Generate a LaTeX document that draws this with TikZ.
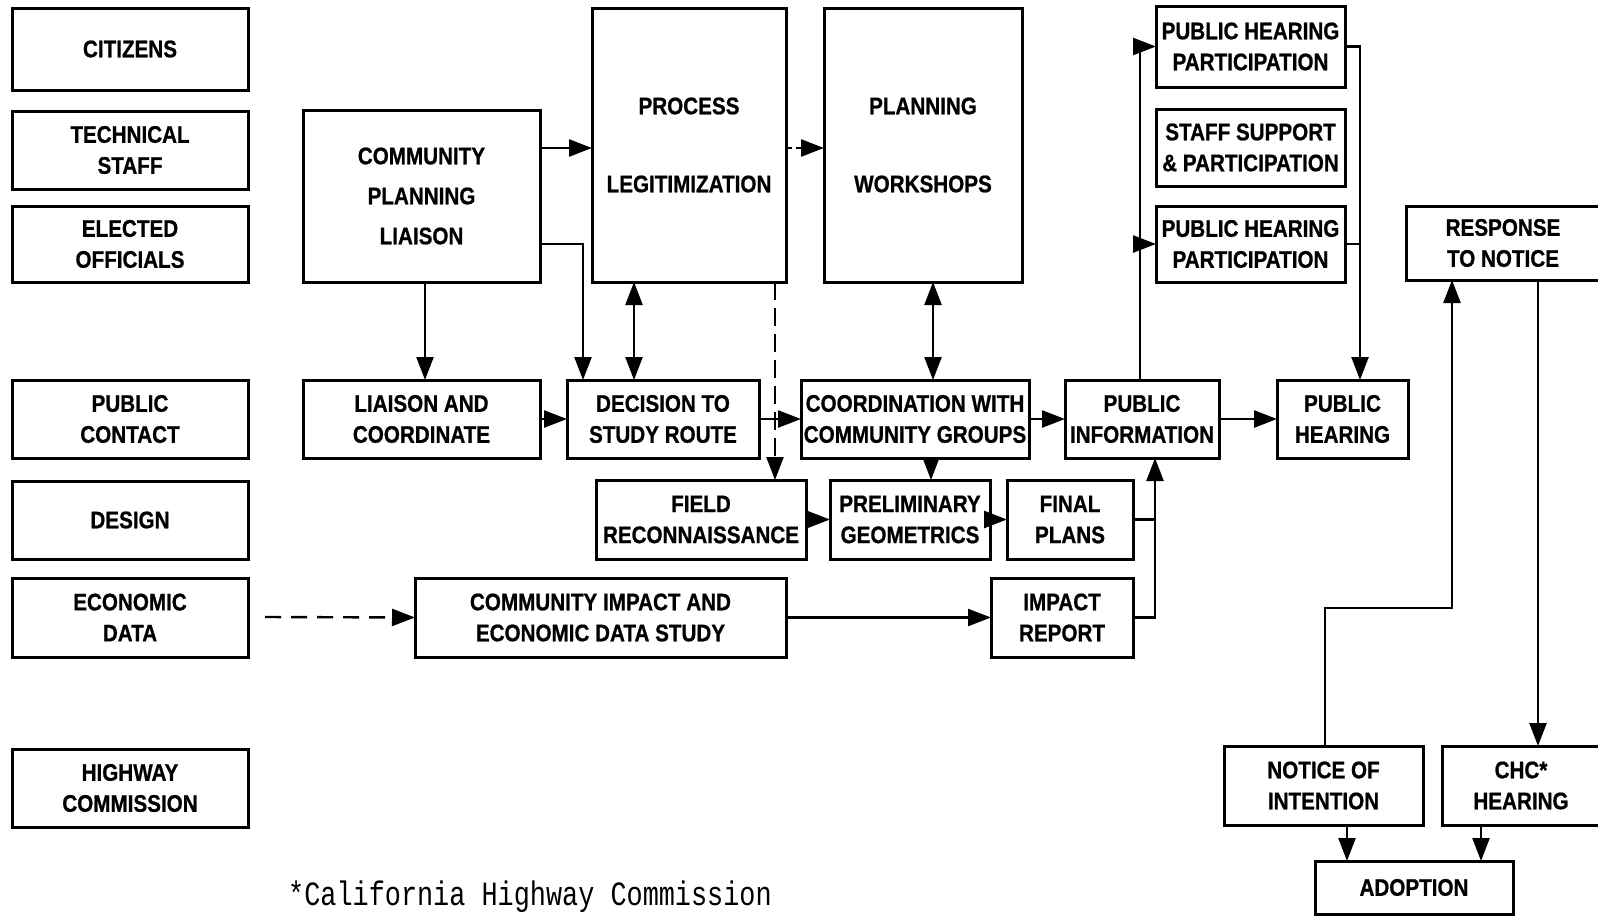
\documentclass[tikz,border=0pt]{standalone}
\usepackage{fontspec}
\usetikzlibrary{arrows.meta}
\newfontfamily\labfont[FakeStretch=0.86, FakeBold=0.8]{Liberation Sans}
\newfontfamily\notefont[FakeStretch=0.79]{Liberation Mono}

% box from (x1,y1) to (x2,y2), y grows downward
\newcommand\blockbox[6]{%
  \node[blk, minimum width={(#4-#2)*1pt}, minimum height={(#5-#3)*1pt}]
    (#1) at ({(#2+#4)/2},{(#3+#5)/2}) {#6};}

\begin{document}
\begin{tikzpicture}[x=1pt,y=-1pt,
  blk/.style={draw, line width=3pt, inner sep=0pt, outer sep=0pt, align=center,
    font=\labfont\bfseries\fontsize{24}{31}\selectfont},
  tip/.style={-{Triangle[length=23pt,width=17pt]}},
  link/.style={line width=2.4pt, tip},
  plain/.style={line width=2.4pt},
  dlink/.style={line width=2.4pt, {Triangle[length=23pt,width=17pt]}-{Triangle[length=23pt,width=17pt]}}]

\useasboundingbox (0,0) rectangle (1598,916);

% left column: participants
\blockbox{citizens}{12}{8}{248}{90}{CITIZENS}
\blockbox{techstaff}{12}{111}{248}{189}{TECHNICAL\\STAFF}
\blockbox{elected}{12}{206}{248}{282}{ELECTED\\OFFICIALS}
\blockbox{pubcontact}{12}{380}{248}{458}{PUBLIC\\CONTACT}
\blockbox{design}{12}{481}{248}{559}{DESIGN}
\blockbox{econdata}{12}{578}{248}{657}{ECONOMIC\\DATA}
\blockbox{highway}{12}{749}{248}{827}{HIGHWAY\\COMMISSION}

% top row
\blockbox{cpl}{303}{110}{540}{282}{COMMUNITY\\[9pt]PLANNING\\[9pt]LIAISON}
\blockbox{pl}{592}{8}{786}{282}{PROCESS\\[47pt]LEGITIMIZATION}
\blockbox{pw}{824}{8}{1022}{282}{PLANNING\\[47pt]WORKSHOPS}
\blockbox{php1}{1156}{6}{1345}{87}{PUBLIC HEARING\\PARTICIPATION}
\blockbox{ssp}{1156}{109}{1345}{186}{STAFF SUPPORT\\\& PARTICIPATION}
\blockbox{php2}{1156}{206}{1345}{282}{PUBLIC HEARING\\PARTICIPATION}
\blockbox{resp}{1406}{206}{1600}{280}{RESPONSE\\TO NOTICE}

% middle row
\blockbox{liaison}{303}{380}{540}{458}{LIAISON AND\\COORDINATE}
\blockbox{decision}{567}{380}{759}{458}{DECISION TO\\STUDY ROUTE}
\blockbox{coord}{801}{380}{1029}{458}{COORDINATION WITH\\COMMUNITY GROUPS}
\blockbox{pubinfo}{1065}{380}{1219}{458}{PUBLIC\\INFORMATION}
\blockbox{pubhear}{1277}{380}{1408}{458}{PUBLIC\\HEARING}

\blockbox{field}{596}{480}{806}{559}{FIELD\\RECONNAISSANCE}
\blockbox{prelim}{830}{480}{990}{559}{PRELIMINARY\\GEOMETRICS}
\blockbox{final}{1007}{480}{1133}{559}{FINAL\\PLANS}

\blockbox{cieds}{415}{578}{786}{657}{COMMUNITY IMPACT AND\\ECONOMIC DATA STUDY}
\blockbox{impact}{991}{578}{1133}{657}{IMPACT\\REPORT}

% commission steps
\blockbox{notice}{1224}{746}{1423}{825}{NOTICE OF\\INTENTION}
\blockbox{chc}{1442}{746}{1600}{825}{CHC*\\HEARING}
\blockbox{adoption}{1315}{861}{1513}{914}{ADOPTION}

\node[anchor=base west, inner sep=0pt, font=\notefont\fontsize{34}{38}\selectfont]
  (note) at (288,905) {*California Highway Commission};

% routing levels
\coordinate (h148) at (0,148);
\coordinate (h244) at (0,244);
\coordinate (h608) at (0,608);
\coordinate (v425) at (425,0);
\coordinate (v583) at (583,0);
\coordinate (v634) at (634,0);
\coordinate (v775) at (775,0);
\coordinate (v931) at (931,0);
\coordinate (v933) at (933,0);
\coordinate (v1140) at (1140,0);
\coordinate (v1155) at (1155,0);
\coordinate (v1325) at (1325,0);
\coordinate (v1347) at (1347,0);
\coordinate (v1360) at (1360,0);
\coordinate (v1452) at (1452,0);
\coordinate (v1481) at (1481,0);
\coordinate (v1538) at (1538,0);
\coordinate (econstart) at (265,617);

% connectors
\draw[link] (cpl.east |- h148) -- (pl.west |- h148);
\draw[link, dash pattern=on 6pt off 4pt] (pl.east |- h148) -- (pw.west |- h148);
\draw[link] (cpl.east |- h244) -| (v583 |- decision.north);
\draw[link] (v425 |- cpl.south) -- (v425 |- liaison.north);
\draw[dlink] (v634 |- pl.south) -- (v634 |- decision.north);
\draw[link, dash pattern=on 18pt off 8pt] (v775 |- pl.south) -- (v775 |- field.north);
\draw[dlink] (v933 |- pw.south) -- (v933 |- coord.north);

\draw[link] (liaison.east) -- (decision.west);
\draw[link] (decision.east) -- (coord.west);
\draw[link] (coord.east) -- (pubinfo.west);
\draw[link] (pubinfo.east) -- (pubhear.west);
\draw[link] (v931 |- coord.south) -- (v931 |- prelim.north);

\draw[link] (pubinfo.north -| v1140) -- (v1140 |- php1.west) -- (php1.west);
\draw[link] (v1140 |- php2.west) -- (php2.west);
\draw[link] (php1.east) -| (v1360 |- pubhear.north);
\draw[plain] (php2.east) -- (php2.east -| v1360);

\draw[link] (field.east) -- (prelim.west);
\draw[link] (prelim.east) -- (final.west);
\draw[plain] (final.east) -- (final.east -| v1155);
\draw[link] (impact.east) -| (v1155 |- pubinfo.south);

\draw[link, dash pattern=on 16pt off 10pt] (econstart) -- (cieds.west);
\draw[link] (cieds.east) -- (impact.west);

\draw[link] (notice.north -| v1325) -- (v1325 |- h608) -- (v1452 |- h608) -- (v1452 |- resp.south);
\draw[link] (v1538 |- resp.south) -- (v1538 |- chc.north);
\draw[link] (v1347 |- notice.south) -- (v1347 |- adoption.north);
\draw[link] (v1481 |- chc.south) -- (v1481 |- adoption.north);
\end{tikzpicture}
\end{document}
